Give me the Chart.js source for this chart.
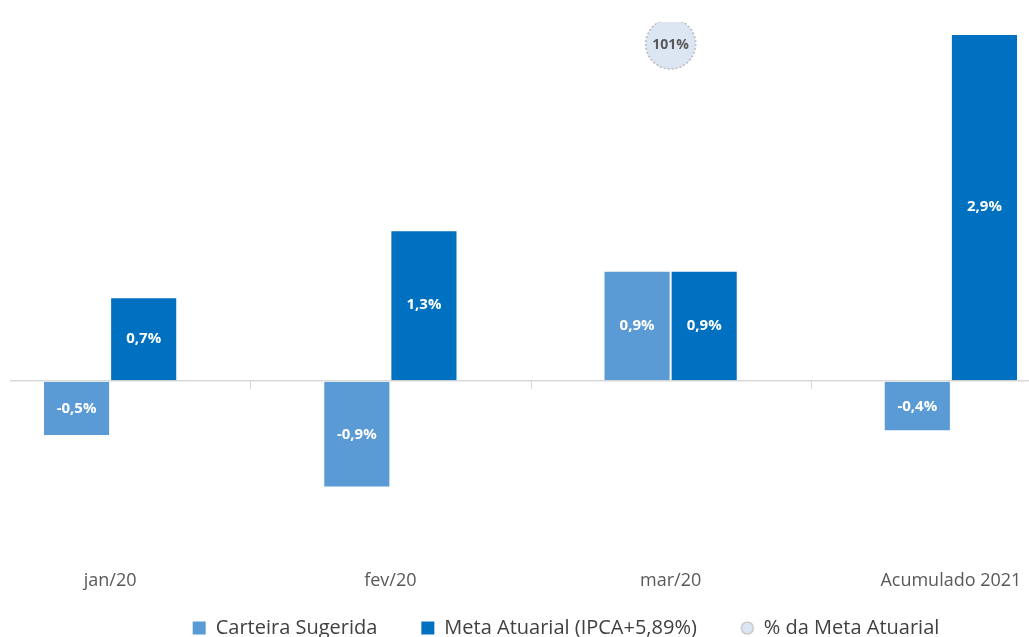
<!DOCTYPE html>
<html>
<head>
<meta charset="utf-8">
<script src="https://cdn.jsdelivr.net/npm/chart.js@4"></script>
<style>
  html, body { margin: 0; padding: 0; background: #fff; overflow: hidden; }
  #wrap { position: absolute; left: 10px; top: 0; width: 1019px; height: 637px; overflow: hidden; }
  #box { position: absolute; left: -45px; top: 0; width: 1202px; height: 677px; }
</style>
</head>
<body>
<div id="wrap"><div id="box"><canvas id="chart"></canvas></div></div>
<script>
const categories = ['jan/20', 'fev/20', 'mar/20', 'Acumulado 2021'];
const carteira = [-0.46, -0.89, 0.92, -0.42];
const meta = [0.70, 1.26, 0.92, 2.90];
const pctMeta = [null, null, 101, null];

const lightBlue = '#5b9bd5';
const darkBlue = '#0070c0';
const fontFamily = "'Open Sans', 'Noto Sans', sans-serif";

// circle drawn on a small canvas, used as point style
function circleImage(r, dashed) {
  const c = document.createElement('canvas');
  c.width = r * 2 + 4;
  c.height = r * 2 + 4;
  const g = c.getContext('2d');
  g.beginPath();
  g.arc(r + 2, r + 2, r, 0, Math.PI * 2);
  g.fillStyle = '#dce6f2';
  g.fill();
  if (dashed) g.setLineDash([2, 2]);
  g.lineWidth = 1.2;
  g.strokeStyle = dashed ? '#a6a6a6' : '#bfbfbf';
  g.stroke();
  return c;
}

function fmt(v, dec) {
  return v.toFixed(dec).replace('.', ',') + '%';
}

// legend uses a wide item padding; pull it up so it sits close to the axis labels
const legendShift = {
  id: 'legendShift',
  afterLayout(chart) {
    chart.legend.top -= 28;
    chart.legend.bottom -= 28;
  }
};

// value labels + small category separators on the zero line
const labelPlugin = {
  id: 'labels',
  afterDatasetsDraw(chart) {
    const ctx = chart.ctx;
    const x = chart.scales.x;
    const y = chart.scales.y;
    const y0 = y.getPixelForValue(0);

    ctx.save();
    ctx.strokeStyle = '#d9d9d9';
    ctx.lineWidth = 1;
    for (let i = 0; i < categories.length - 1; i++) {
      const px = Math.round((x.getPixelForValue(i) + x.getPixelForValue(i + 1)) / 2) + 0.5;
      ctx.beginPath();
      ctx.moveTo(px, y0);
      ctx.lineTo(px, y0 + 8);
      ctx.stroke();
    }

    ctx.textAlign = 'center';
    ctx.textBaseline = 'middle';
    chart.data.datasets.forEach((ds, di) => {
      const metaInfo = chart.getDatasetMeta(di);
      metaInfo.data.forEach((el, i) => {
        const v = ds.data[i];
        if (v === null || v === undefined) return;
        if (ds.type === 'bar') {
          ctx.fillStyle = '#ffffff';
          ctx.font = 'bold 15px ' + fontFamily;
          ctx.fillText(fmt(v, 1), el.x, (el.y + el.base) / 2);
        } else {
          ctx.fillStyle = '#595959';
          ctx.font = 'bold 14px ' + fontFamily;
          ctx.fillText(fmt(v, 0), el.x, el.y + 1);
        }
      });
    });
    ctx.restore();
  }
};

new Chart(document.getElementById('chart'), {
  data: {
    labels: categories,
    datasets: [
      {
        type: 'bar',
        label: 'Carteira Sugerida',
        data: carteira,
        backgroundColor: lightBlue,
        borderColor: 'rgba(255,255,255,0.2)',
        borderWidth: 1,
        pointStyle: 'rect',
        yAxisID: 'y',
        order: 2
      },
      {
        type: 'bar',
        label: 'Meta Atuarial (IPCA+5,89%)',
        data: meta,
        backgroundColor: darkBlue,
        borderColor: 'rgba(255,255,255,0.15)',
        borderWidth: 1,
        pointStyle: 'rect',
        yAxisID: 'y',
        order: 2
      },
      {
        type: 'line',
        label: '% da Meta Atuarial',
        data: pctMeta,
        showLine: false,
        pointStyle: circleImage(25, true),
        backgroundColor: '#dce6f2',
        borderColor: '#bfbfbf',
        yAxisID: 'y2',
        order: 1
      }
    ]
  },
  options: {
    responsive: true,
    maintainAspectRatio: false,
    animation: false,
    layout: { padding: { top: 22, bottom: 1 } },
    datasets: {
      bar: { barPercentage: 1, categoryPercentage: 0.479 }
    },
    scales: {
      x: {
        grid: { display: false, drawTicks: false },
        border: { display: false },
        ticks: {
          color: '#595959',
          padding: 10,
          font: { family: fontFamily, size: 18 }
        }
      },
      y: {
        min: -1.5,
        max: 3.0,
        afterFit: s => { s.width = 0; },
        grid: {
          drawTicks: false,
          color: c => (c.tick.value === 0 ? '#d9d9d9' : 'rgba(0,0,0,0)'),
          lineWidth: 1.5
        },
        border: { display: false },
        ticks: { display: false, stepSize: 0.5 }
      },
      y2: {
        position: 'right',
        min: 0,
        max: 105.3,
        afterFit: s => { s.width = 76; },
        grid: { display: false, drawTicks: false },
        border: { display: false },
        ticks: { display: false }
      }
    },
    plugins: {
      tooltip: { enabled: false },
      legend: {
        position: 'bottom',
        labels: {
          usePointStyle: true,
          boxWidth: 13,
          boxHeight: 13,
          padding: 44,
          color: '#404040',
          font: { family: fontFamily, size: 20 },
          generateLabels(chart) {
            return chart.data.datasets.map((ds, i) => ({
              text: ds.label,
              datasetIndex: i,
              fillStyle: ds.backgroundColor,
              strokeStyle: ds.backgroundColor,
              lineWidth: 0,
              pointStyle: i === 2 ? circleImage(6, false) : 'rect',
              fontColor: '#404040',
              hidden: false
            }));
          }
        }
      }
    }
  },
  plugins: [labelPlugin, legendShift]
});
</script>
</body>
</html>
